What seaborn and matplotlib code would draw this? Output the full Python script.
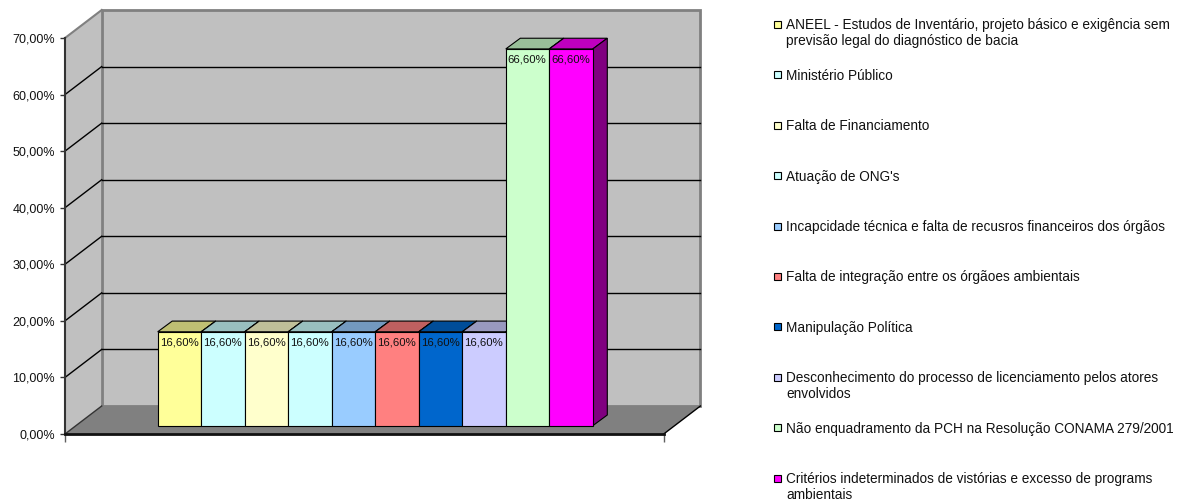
import numpy as np
import matplotlib
matplotlib.use("Agg")
import matplotlib.pyplot as plt
import matplotlib.transforms as mtransforms
from matplotlib.patches import Polygon, Rectangle
from matplotlib.lines import Line2D
from matplotlib.colors import to_rgb
from matplotlib.ticker import FuncFormatter
import seaborn as sns

# ---------------------------------------------------------------- data
categories = [
    "ANEEL - Estudos de Inventário, projeto básico e exigência sem\nprevisão legal do diagnóstico de bacia",
    "Ministério Público",
    "Falta de Financiamento",
    "Atuação de ONG's",
    "Incapcidade técnica e falta de recusros financeiros dos órgãos",
    "Falta de integração entre os órgãoes ambientais",
    "Manipulação Política",
    "Desconhecimento do processo de licenciamento pelos atores\nenvolvidos",
    "Não enquadramento da PCH na Resolução CONAMA 279/2001",
    "Critérios indeterminados de vistórias e excesso de programs\nambientais",
]
values = [16.6, 16.6, 16.6, 16.6, 16.6, 16.6, 16.6, 16.6, 66.6, 66.6]
colors = ["#FFFF99", "#CCFFFF", "#FFFFCC", "#CCFFFF", "#99CCFF",
          "#FF8080", "#0066CC", "#CCCCFF", "#CCFFCC", "#FF00FF"]
y_ticks = [0, 10, 20, 30, 40, 50, 60, 70]


def pct(v):
    return f"{v:.2f}%".replace(".", ",")


# ---------------------------------------------------------------- figure
W, H, DPI = 1183, 503, 100
plt.rcParams["font.family"] = ["Liberation Sans", "DejaVu Sans"]

fig = plt.figure(figsize=(W / DPI, H / DPI), dpi=DPI)
fig.patch.set_facecolor("white")
ax = fig.add_axes([65 / W, (H - 434) / H, 598.7 / W, 396 / H])
ax.patch.set_visible(False)

# oblique depth shifts (pixels): back wall, bar front plane, bar depth
WALL = np.array([36.7, 28.0])
BAR_FRONT = np.array([10.9, 8.3])
BAR_DEPTH = np.array([14.5, 10.7])
BAR_BACK = BAR_FRONT + BAR_DEPTH

# bars (front faces) via seaborn
sns.barplot(x=list(range(len(values))), y=values, hue=list(range(len(values))),
            palette=colors, width=1.0, saturation=1, legend=False,
            edgecolor="black", linewidth=0.8, ax=ax)

XMIN, XMAX = -2.38, 11.38
ax.set_xlim(XMIN, XMAX)
ax.set_ylim(0, 70)

ident = mtransforms.IdentityTransform()


def proj(x, y, shift):
    return ax.transData.transform((x, y)) + shift


def poly(verts, **kw):
    p = Polygon(verts, closed=True, transform=ident, clip_on=False, **kw)
    ax.add_patch(p)
    return p


def seg(a, b, **kw):
    ln = Line2D([a[0], b[0]], [a[1], b[1]], transform=ident, clip_on=False, **kw)
    ax.add_line(ln)
    return ln


zero = np.zeros(2)
YTOP = y_ticks[-1]

# side wall and back wall
poly([proj(XMIN, 0, zero), proj(XMIN, YTOP, zero), proj(XMIN, YTOP, WALL),
      proj(XMIN, 0, WALL)], facecolor="#C0C0C0", edgecolor="none", zorder=0.5)
poly([proj(XMIN, 0, WALL), proj(XMIN, YTOP, WALL), proj(XMAX, YTOP, WALL),
      proj(XMAX, 0, WALL)], facecolor="#C0C0C0", edgecolor="#808080",
     linewidth=2, zorder=0.5)
seg(proj(XMIN, YTOP, zero), proj(XMIN, YTOP, WALL), color="#808080", lw=1.5, zorder=0.6)

# gridlines on both walls
for v in y_ticks[1:-1]:
    seg(proj(XMIN, v, WALL), proj(XMAX, v, WALL), color="black", lw=1, zorder=0.7)
    seg(proj(XMIN, v, zero), proj(XMIN, v, WALL), color="black", lw=1, zorder=0.7)

# floor
poly([proj(XMIN, 0, zero), proj(XMAX, 0, zero), proj(XMAX, 0, WALL),
      proj(XMIN, 0, WALL)], facecolor="#808080", edgecolor="none", zorder=0.8)
seg(proj(XMIN, 0, zero), proj(XMIN, 0, WALL), color="#333333", lw=1, zorder=0.9)
seg(proj(XMAX, 0, zero), proj(XMAX, 0, WALL), color="black", lw=1, zorder=0.9)

# bars: move to their depth plane, add top and side faces
bar_tf = mtransforms.offset_copy(ax.transData, fig=fig, x=BAR_FRONT[0],
                                 y=BAR_FRONT[1], units="dots")
bars = sorted([p for p in ax.patches if isinstance(p, Rectangle)], key=lambda p: p.get_x())
for bar, color, v in zip(bars, colors, values):
    bar.set_transform(bar_tf)
    bar.set_zorder(4)
    bar.set_clip_on(False)
    x0, w = bar.get_x(), bar.get_width()
    rgb = np.array(to_rgb(color))
    poly([proj(x0, v, BAR_FRONT), proj(x0 + w, v, BAR_FRONT),
          proj(x0 + w, v, BAR_BACK), proj(x0, v, BAR_BACK)],
         facecolor=rgb * 0.75, edgecolor="black", linewidth=0.8, zorder=3)
    poly([proj(x0 + w, 0, BAR_FRONT), proj(x0 + w, v, BAR_FRONT),
          proj(x0 + w, v, BAR_BACK), proj(x0 + w, 0, BAR_BACK)],
         facecolor=rgb * 0.5, edgecolor="black", linewidth=0.8, zorder=3)
    ax.annotate(pct(v), xy=(x0, v), xycoords=bar_tf, xytext=(2, -11),
                textcoords="offset pixels", ha="left", va="center",
                fontsize=8.2, color="#111111", zorder=5, annotation_clip=False)

# axes styling
for s in ("top", "right"):
    ax.spines[s].set_visible(False)
ax.spines["left"].set_color("#333333")
ax.spines["left"].set_linewidth(1.5)
ax.spines["bottom"].set_color("#111111")
ax.spines["bottom"].set_linewidth(2)
ax.spines["left"].set_zorder(2)
ax.spines["bottom"].set_zorder(2)

ax.set_yticks(y_ticks)
ax.yaxis.set_major_formatter(FuncFormatter(lambda v, _: pct(v)))
ax.tick_params(axis="y", length=3.6, width=1, color="#333333", pad=3.6,
               labelsize=9, labelcolor="#111111")
ax.set_xticks([XMIN, XMAX])
ax.set_xticklabels(["", ""])
ax.tick_params(axis="x", length=5.4, width=1, color="#606060")
ax.set_xlabel("")
ax.set_ylabel("")

# legend, one entry per category, evenly spaced
px = mtransforms.Affine2D().scale(1, -1).translate(0, H)
LEG_BOX_X, LEG_TEXT_X = 774, 786
LEG_Y0, LEG_STEP, LINE_STEP = 29.5, 50.4, 16
for i, (label, color) in enumerate(zip(categories, colors)):
    base = LEG_Y0 + i * LEG_STEP
    fig.add_artist(Rectangle((LEG_BOX_X, base - 8.5), 7, 7, transform=px,
                             facecolor=color, edgecolor="black", linewidth=0.8))
    for j, line in enumerate(label.split("\n")):
        fig.text(LEG_TEXT_X, base + j * LINE_STEP, line, transform=px,
                 ha="left", va="baseline", fontsize=9.8, color="#111111")

fig.savefig("out.png", dpi=DPI)
